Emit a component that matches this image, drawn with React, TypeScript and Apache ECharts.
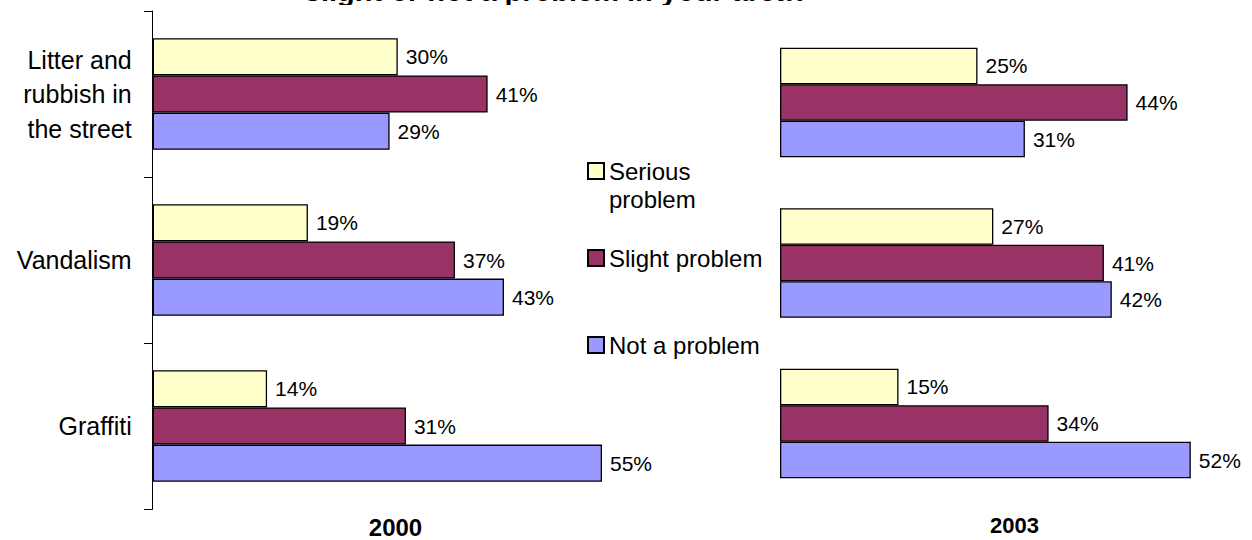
import React, { useEffect, useRef } from "react";
import * as echarts from "echarts";

const categories = ["Litter and rubbish in the street", "Vandalism", "Graffiti"];
const categoryLabels = ["Litter and\nrubbish in\nthe street", "Vandalism", "Graffiti"];
const seriesNames = ["Serious problem", "Slight problem", "Not a problem"];
const values2000 = {
  serious: [30, 19, 14],
  slight: [41, 37, 31],
  not: [29, 43, 55],
};
const values2003 = {
  serious: [25, 27, 15],
  slight: [44, 41, 34],
  not: [31, 42, 52],
};
const yearLabels = ["2000", "2003"];
const titleText = "slight or not a problem in your area?";

const colors = ["#FFFFCC", "#993366", "#9999FF"];
const FONT = "'Liberation Sans', Arial, sans-serif";

export default function App() {
  const ref = useRef<HTMLDivElement>(null);
  useEffect(() => {
    if (!ref.current) return;
    const chart = echarts.init(ref.current, null, { renderer: "svg" });
    const mk = (name: string, data: number[], idx: number, gi: number) => ({
      type: "bar",
      name,
      data,
      xAxisIndex: gi,
      yAxisIndex: gi,
      barGap: "0%",
      barCategoryGap: gi === 0 ? "32.7%" : "31.7%",
      itemStyle: { color: colors[idx], borderColor: "#000", borderWidth: 1.3 },
      label: {
        show: true,
        position: "right",
        distance: 8,
        formatter: "{c}%",
        color: "#000",
        fontSize: 21,
        fontFamily: FONT,
      },
      emphasis: { disabled: true },
    });
    const legendBase = {
      orient: "vertical",
      left: 587,
      padding: 0,
      itemWidth: 16,
      itemHeight: 16,
      itemGap: 0,
      icon: "rect",
      selectedMode: false,
      textStyle: { fontSize: 24, fontFamily: FONT, color: "#000", lineHeight: 28 },
    };
    chart.setOption({
      animation: false,
      textStyle: { fontFamily: FONT },
      grid: [
        { left: 152.7, width: 449.3, top: 11, height: 498 },
        { left: 780, width: 434.5, top: 22.25, height: 481.5 },
      ],
      xAxis: [
        { type: "value", gridIndex: 0, min: 0, max: 55, show: false },
        { type: "value", gridIndex: 1, min: 0, max: 55, show: false },
      ],
      yAxis: [
        {
          type: "category",
          gridIndex: 0,
          data: categories,
          inverse: true,
          axisLine: { show: true, lineStyle: { color: "#000", width: 1 } },
          axisTick: { show: true, length: 8.6, lineStyle: { color: "#000" } },
          axisLabel: {
            fontSize: 25,
            lineHeight: 34.5,
            color: "#000",
            fontFamily: FONT,
            margin: 21,
            align: "right",
            formatter: (_v: string, i: number) => categoryLabels[i],
          },
          splitLine: { show: false },
        },
        {
          type: "category",
          gridIndex: 1,
          data: categories,
          inverse: true,
          axisLine: { show: false },
          axisTick: { show: false },
          axisLabel: { show: false },
          splitLine: { show: false },
        },
      ],
      legend: [
        {
          ...legendBase,
          top: 129,
          data: [seriesNames[0]],
          formatter: () => "\nSerious\nproblem",
        },
        { ...legendBase, top: 244, data: [seriesNames[1]] },
        { ...legendBase, top: 331, data: [seriesNames[2]] },
      ],
      graphic: [
        {
          type: "text",
          x: 557,
          y: 5,
          style: {
            text: titleText,
            fontSize: 29,
            fontWeight: "bold",
            fontFamily: FONT,
            fill: "#000",
            textAlign: "center",
            textVerticalAlign: "bottom",
          },
        },
        {
          type: "rect",
          shape: { x: 280, y: 5, width: 560, height: 12 },
          style: { fill: "#fff" },
        },
        {
          type: "text",
          x: 395.5,
          y: 527,
          style: {
            text: yearLabels[0],
            fontSize: 24,
            fontWeight: "bold",
            fontFamily: FONT,
            fill: "#000",
            textAlign: "center",
            textVerticalAlign: "middle",
          },
        },
        {
          type: "text",
          x: 1014.5,
          y: 525,
          style: {
            text: yearLabels[1],
            fontSize: 22,
            fontWeight: "bold",
            fontFamily: FONT,
            fill: "#000",
            textAlign: "center",
            textVerticalAlign: "middle",
          },
        },
      ],
      series: [
        mk(seriesNames[0], values2000.serious, 0, 0),
        mk(seriesNames[1], values2000.slight, 1, 0),
        mk(seriesNames[2], values2000.not, 2, 0),
        mk(seriesNames[0], values2003.serious, 0, 1),
        mk(seriesNames[1], values2003.slight, 1, 1),
        mk(seriesNames[2], values2003.not, 2, 1),
      ],
    });
    return () => chart.dispose();
  }, []);
  return (
    <div
      ref={ref}
      style={{ position: "absolute", left: 0, top: 0, width: 1252, height: 540 }}
    />
  );
}
